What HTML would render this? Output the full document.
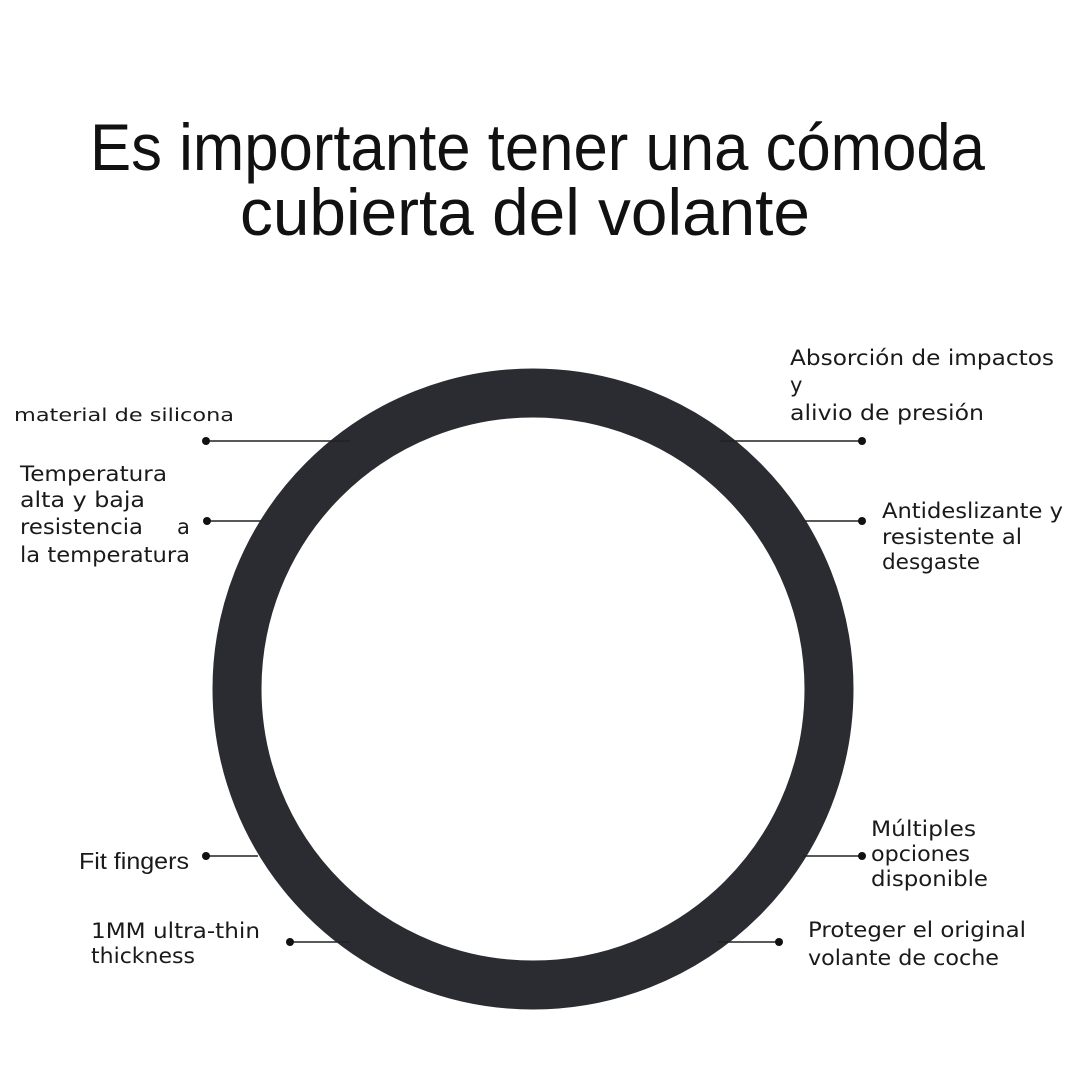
<!DOCTYPE html>
<html><head><meta charset="utf-8"><style>
html,body{margin:0;padding:0;background:#fff;}
svg{display:block;}
.t{font-family:"DejaVu Sans","Liberation Sans",sans-serif;fill:#1a1a1a;}
.h{font-family:"Liberation Sans",sans-serif;fill:#111;font-weight:normal;}
</style></head><body>
<svg width="1080" height="1080" viewBox="0 0 1080 1080" xmlns="http://www.w3.org/2000/svg">
<rect width="1080" height="1080" fill="#fff"/>
<text class="h" x="90" y="170" font-size="66" textLength="895" lengthAdjust="spacingAndGlyphs">Es importante tener una cómoda</text>
<text class="h" x="240" y="235" font-size="66" textLength="570" lengthAdjust="spacingAndGlyphs">cubierta del volante</text>
<circle cx="533" cy="689" r="296" fill="none" stroke="#2b2c31" stroke-width="49"/>
<g stroke="#222" stroke-width="1.6">
<line x1="206" y1="441" x2="350" y2="441"/>
<line x1="207" y1="521" x2="262" y2="521"/>
<line x1="206" y1="856" x2="258" y2="856"/>
<line x1="290" y1="942" x2="350" y2="942"/>
<line x1="720" y1="441" x2="862" y2="441"/>
<line x1="803" y1="521" x2="862" y2="521"/>
<line x1="803" y1="856" x2="862" y2="856"/>
<line x1="718" y1="942" x2="779" y2="942"/>
</g>
<g fill="#111">
<circle cx="206" cy="441" r="4"/><circle cx="207" cy="521" r="4"/>
<circle cx="206" cy="856" r="4"/><circle cx="290" cy="942" r="4"/>
<circle cx="862" cy="441" r="4"/><circle cx="862" cy="521" r="4"/>
<circle cx="862" cy="856" r="4"/><circle cx="779" cy="942" r="4"/>
</g>
<text class="t" x="14" y="421" font-size="18" textLength="220" lengthAdjust="spacingAndGlyphs">material de silicona</text>
<g class="t" font-size="21">
<text x="20" y="481" textLength="147" lengthAdjust="spacingAndGlyphs">Temperatura</text>
<text x="20" y="507" textLength="125" lengthAdjust="spacingAndGlyphs">alta y baja</text>
<text x="20" y="534" textLength="123" lengthAdjust="spacingAndGlyphs">resistencia</text>
<text x="177" y="534">a</text>
<text x="20" y="562" textLength="170" lengthAdjust="spacingAndGlyphs">la temperatura</text>
<text x="790" y="365" textLength="264" lengthAdjust="spacingAndGlyphs">Absorción de impactos</text>
<text x="790" y="392">y</text>
<text x="790" y="420" textLength="194" lengthAdjust="spacingAndGlyphs">alivio de presión</text>
<text x="882" y="518" textLength="181" lengthAdjust="spacingAndGlyphs">Antideslizante y</text>
<text x="882" y="544" textLength="140" lengthAdjust="spacingAndGlyphs">resistente al</text>
<text x="882" y="569" textLength="98" lengthAdjust="spacingAndGlyphs">desgaste</text>
<text x="871" y="836" textLength="105" lengthAdjust="spacingAndGlyphs">Múltiples</text>
<text x="871" y="861" textLength="99" lengthAdjust="spacingAndGlyphs">opciones</text>
<text x="871" y="886" textLength="117" lengthAdjust="spacingAndGlyphs">disponible</text>
<text x="91" y="938" textLength="169" lengthAdjust="spacingAndGlyphs">1MM ultra-thin</text>
<text x="91" y="963" textLength="104" lengthAdjust="spacingAndGlyphs">thickness</text>
<text x="808" y="937" textLength="218" lengthAdjust="spacingAndGlyphs">Proteger el original</text>
<text x="808" y="965" textLength="191" lengthAdjust="spacingAndGlyphs">volante de coche</text>
</g>
<text x="79" y="869" font-size="23" font-family="Liberation Sans, sans-serif" fill="#1a1a1a" textLength="110" lengthAdjust="spacingAndGlyphs">Fit fingers</text>
</svg>
</body></html>
